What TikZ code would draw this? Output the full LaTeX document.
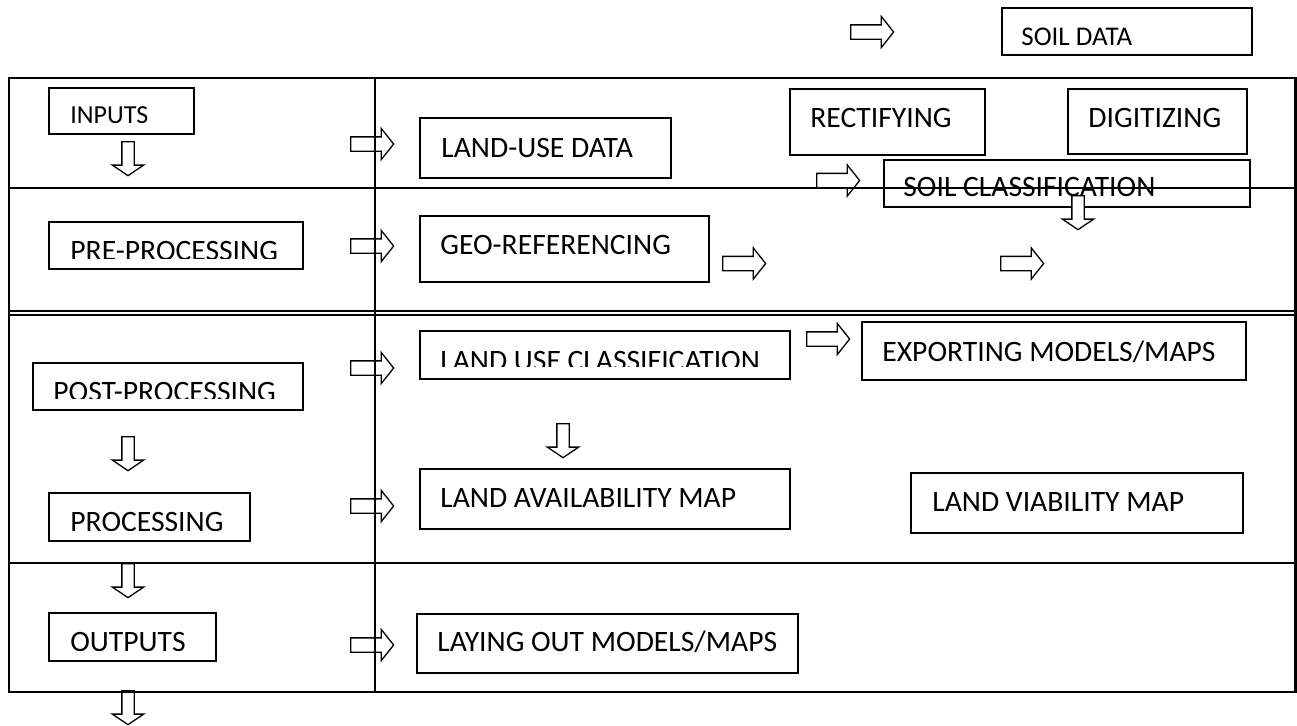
\documentclass[tikz,border=0pt]{standalone}
\usepackage{fontspec}
\setmainfont{Carlito}
\usetikzlibrary{shapes.arrows}

\begin{document}
\begin{tikzpicture}[x=0.5pt,y=-0.5pt,
	box/.style={draw,line width=0.8pt,inner sep=0pt,anchor=north west},
	txt/.style={inner sep=0pt,anchor=base west,font=\fontsize{14.8}{17}\selectfont},
	rarr/.style={single arrow,draw,fill=white,line width=0.65pt,anchor=tail,
		inner xsep=0pt,inner ysep=3.25pt,single arrow head extend=4.25pt,
		single arrow tip angle=103,minimum height=21.5pt},
	darr/.style={rarr,rotate=-90,inner ysep=2.75pt,single arrow head extend=4.75pt,
		single arrow tip angle=112,minimum height=17pt}]
	\useasboundingbox (0,0) rectangle (1297,725);

	% left column
	\node[box,minimum width=72.5pt,minimum height=23pt] (inputs) at (48,87) {};
	\node[txt,font=\fontsize{13}{15}\selectfont] (inputs-t) at (70,123) {INPUTS};
	\node[box,minimum width=127pt,minimum height=23.5pt] (pre) at (48,221) {};
	\begin{scope}
		\clip (48,221) rectangle (302,258);
		\node[txt] (pre-t) at (70,260.5) {PRE-PROCESSING};
	\end{scope}
	\node[box,minimum width=135pt,minimum height=23.5pt] (post) at (32,362) {};
	\begin{scope}
		\clip (32,362) rectangle (302,398);
		\node[txt] (post-t) at (53,401.5) {POST-PROCESSING};
	\end{scope}
	\node[box,minimum width=100.5pt,minimum height=24pt] (proc) at (48,492) {};
	\begin{scope}
		\clip (48,492) rectangle (249,530);
		\node[txt] (proc-t) at (70,531.5) {PROCESSING};
	\end{scope}
	\node[box,minimum width=83.5pt,minimum height=24pt] (outputs) at (48,612) {};
	\begin{scope}
		\clip (48,612) rectangle (215,650);
		\node[txt] (outputs-t) at (70,651.5) {OUTPUTS};
	\end{scope}

	% right part
	\node[box,minimum width=125pt,minimum height=23.5pt] (soildata) at (1001,7) {};
	\node[txt,font=\fontsize{13.5}{16}\selectfont] (soildata-t) at (1021,45) {SOIL DATA};
	\node[box,minimum width=125.5pt,minimum height=30pt] (landuse) at (419,117) {};
	\node[txt] (landuse-t) at (441,157) {LAND-USE DATA};
	\node[box,minimum width=97.5pt,minimum height=33pt] (rect) at (789,88) {};
	\node[txt] (rect-t) at (810,127.5) {RECTIFYING};
	\node[box,minimum width=89.5pt,minimum height=32.5pt] (digit) at (1067,88) {};
	\node[txt] (digit-t) at (1088,127.5) {DIGITIZING};
	\node[box,minimum width=183pt,minimum height=23.5pt] (soilcls) at (883,159) {};
	\node[txt] (soilcls-t) at (903,196) {SOIL CLASSIFICATION};
	\node[box,minimum width=144.5pt,minimum height=33pt] (georef) at (419,215) {};
	\node[txt] (georef-t) at (440,254) {GEO-REFERENCING};
	\node[box,minimum width=185pt,minimum height=24pt] (luc) at (419,330) {};
	\begin{scope}
		\clip (419,330) rectangle (789,366.5);
		\node[txt] (luc-t) at (440,370) {LAND USE CLASSIFICATION};
	\end{scope}
	\node[box,minimum width=192pt,minimum height=29pt] (export) at (861,321) {};
	\node[txt] (export-t) at (882,361) {EXPORTING MODELS/MAPS};
	\node[box,minimum width=185pt,minimum height=30pt] (avail) at (419,468) {};
	\node[txt] (avail-t) at (440,507) {LAND AVAILABILITY MAP};
	\node[box,minimum width=166pt,minimum height=30pt] (viab) at (910,472) {};
	\node[txt] (viab-t) at (932,511) {LAND VIABILITY MAP};
	\node[box,minimum width=190.5pt,minimum height=29.5pt] (layout) at (416,613) {};
	\node[txt] (layout-t) at (437,651) {LAYING OUT MODELS/MAPS};

	% block arrows
	\foreach \n/\x/\y in {in/350/144,pre/350/246,post/350/368,proc/350/506,out/350/645,
		geo/722/263.5,cls/816/180.5,top/850/32,pre2/1000/263.5,luc/806/339}
		\node[rarr] (r-\n) at (\x,\y) {};
	\foreach \n/\x/\y in {in/128/141,post/128/436,proc/128/563,out/128/690,
		luc/563/423,cls/1078/195}
		\node[darr] (d-\n) at (\x,\y) {};

	% table
	\draw[line width=1.3pt] (9,78) rectangle (1295.5,692);
	\draw[line width=1.3pt] (375,78) -- (375,692);
	\draw[line width=1.3pt] (9,188) -- (1295.5,188);
	\draw[line width=0.9pt] (9,311) -- (1295.5,311);
	\draw[line width=0.9pt] (9,315) -- (1295.5,315);
	\draw[line width=1.3pt] (9,563) -- (1295.5,563);
\end{tikzpicture}
\end{document}
